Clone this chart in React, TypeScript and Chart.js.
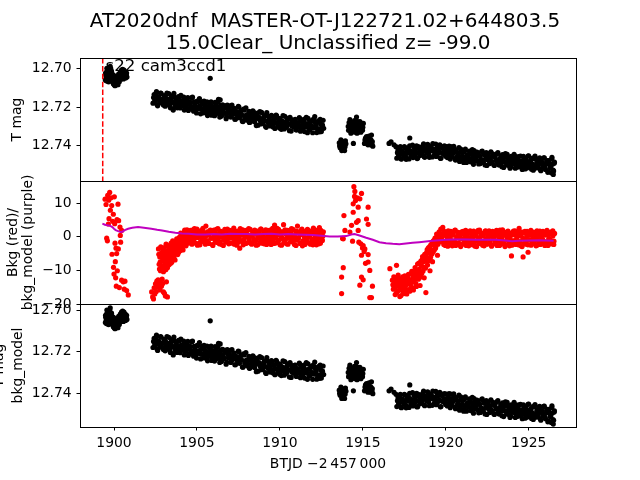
import React, { useEffect, useRef } from 'react';
import { Chart, registerables } from 'chart.js';

Chart.register(...registerables);

const FONT = '"DejaVu Sans", sans-serif';

const titleLines = ['AT2020dnf  MASTER-OT-J122721.02+644803.5', '15.0Clear_ Unclassified z= -99.0'];
const sectorLabel = 's22 cam3ccd1';
const xLabel = 'BTJD \u22122\u2009457\u2009000';
const yLabelTop = ['T mag'];
const yLabelMid = ['Bkg (red)/', 'bkg_model (purple)'];
const yLabelBot = ['T mag', 'bkg_model'];

const xTicks = [1900, 1905, 1910, 1915, 1920, 1925];
const magTicks = [12.7, 12.72, 12.74];
const bkgTicks = [10, 0, -10, -20];
const xRange = [1897.95, 1927.85];
const magRangeTop = [12.6947, 12.7582];
const bkgRange = [-20.0, 16.6];
const magRangeBot = [12.6971, 12.7562];
const eventTime = 1899.32;

// ---------- T mag light curve (black) ----------
const tmagSegA: number[][] = [
  [1899.48,12.7060],[1899.50,12.7035],[1899.53,12.7050],[1899.55,12.7020],[1899.58,12.7065],[1899.60,12.7040],
  [1899.63,12.7010],[1899.65,12.7055],[1899.68,12.7030],[1899.70,12.7005],[1899.73,12.7045],[1899.75,12.7020],
  [1899.77,12.6990],[1899.80,12.7060],[1899.82,12.7035],[1899.85,12.7015],[1899.88,12.7050],[1899.90,12.7070],
  [1899.93,12.7040],[1899.96,12.7080],[1899.98,12.7055],[1900.01,12.7085],[1900.04,12.7065],[1900.07,12.7045],
  [1900.10,12.7080],[1900.13,12.7060],[1900.16,12.7075],[1900.19,12.7050],[1900.22,12.7070],[1900.26,12.7045],
  [1900.30,12.7060],[1900.34,12.7035],[1900.38,12.7020],[1900.42,12.7045],[1900.45,12.7010],[1900.48,12.7030],
  [1900.52,12.7005],[1900.55,12.7040],[1900.58,12.7025],[1900.62,12.7045],[1900.66,12.7030],[1900.70,12.7050],
  [1900.74,12.7035],[1900.78,12.7045],
  [1899.49,12.7025],[1899.54,12.7065],[1899.57,12.7000],[1899.61,12.7055],[1899.64,12.7035],[1899.67,12.7070],
  [1899.71,12.7050],[1899.74,12.7000],[1899.78,12.7030],[1899.81,12.7015],[1899.86,12.7060],[1899.89,12.7030],
  [1899.94,12.7065],[1899.97,12.7035],[1900.00,12.7060],[1900.03,12.7045],[1900.06,12.7090],[1900.09,12.7055],
  [1900.14,12.7085],[1900.18,12.7065],[1900.21,12.7040],[1900.24,12.7085],[1900.28,12.7030],[1900.32,12.7070],
  [1900.36,12.7050],[1900.40,12.7030],[1900.44,12.7055],[1900.47,12.7020],[1900.50,12.7050],[1900.54,12.7015],
  [1900.57,12.7055],[1900.60,12.7010],[1900.64,12.7040],[1900.68,12.7020],[1900.72,12.7040],[1900.76,12.7025],
];
const tmagSegB: number[][] = [
  [1902.35,12.7180],[1902.42,12.7136],[1902.49,12.7162],[1902.56,12.7120],[1902.63,12.7194],[1902.70,12.7150],
  [1902.77,12.7177],[1902.84,12.7130],[1902.91,12.7160],[1902.98,12.7190],[1903.05,12.7145],[1903.12,12.7175],
  [1903.19,12.7128],[1903.26,12.7188],[1903.33,12.7160],[1903.40,12.7204],[1903.47,12.7142],[1903.54,12.7176],
  [1903.57,12.7216],[1903.61,12.7130],[1903.68,12.7190],[1903.75,12.7160],[1903.82,12.7204],[1903.89,12.7146],
  [1903.96,12.7179],[1904.03,12.7140],[1904.10,12.7192],[1904.17,12.7176],[1904.24,12.7216],[1904.31,12.7158],
  [1904.38,12.7190],[1904.45,12.7151],[1904.52,12.7210],[1904.59,12.7175],[1904.66,12.7200],[1904.73,12.7149],
  [1904.80,12.7222],[1904.87,12.7184],[1904.94,12.7214],[1905.01,12.7170],[1905.08,12.7199],[1905.15,12.7156],
  [1905.22,12.7235],[1905.29,12.7185],[1905.36,12.7211],[1905.43,12.7170],[1905.50,12.7229],[1905.57,12.7199],
  [1905.64,12.7244],[1905.71,12.7178],[1905.78,12.7214],[1905.80,12.7052],[1905.85,12.7173],[1905.92,12.7231],
  [1905.99,12.7199],[1906.06,12.7245],[1906.13,12.7192],[1906.20,12.7214],[1906.27,12.7175],[1906.30,12.7160],
  [1906.34,12.7232],[1906.40,12.7163],[1906.41,12.7209],[1906.48,12.7247],[1906.55,12.7189],[1906.62,12.7232],
  [1906.69,12.7202],[1906.76,12.7260],[1906.83,12.7190],[1906.90,12.7228],[1906.97,12.7216],[1907.04,12.7252],
  [1907.11,12.7190],[1907.18,12.7237],[1907.25,12.7207],[1907.32,12.7263],[1907.39,12.7225],[1907.46,12.7249],
  [1907.53,12.7200],[1907.60,12.7238],[1907.67,12.7217],[1907.74,12.7274],[1907.81,12.7211],[1907.88,12.7255],
  [1907.95,12.7204],[1908.02,12.7268],[1908.09,12.7241],[1908.16,12.7280],[1908.23,12.7226],[1908.30,12.7260],
  [1908.37,12.7220],[1908.44,12.7272],[1908.51,12.7244],[1908.58,12.7296],[1908.65,12.7231],[1908.72,12.7260],
  [1908.79,12.7224],[1908.86,12.7287],[1908.93,12.7262],[1909.00,12.7277],[1909.07,12.7244],[1909.14,12.7301],
  [1909.21,12.7229],[1909.28,12.7277],[1909.35,12.7255],[1909.42,12.7298],[1909.49,12.7243],[1909.56,12.7289],
  [1909.63,12.7266],[1909.70,12.7311],[1909.77,12.7242],[1909.84,12.7282],[1909.91,12.7259],[1909.98,12.7309],
  [1910.05,12.7270],[1910.12,12.7291],[1910.19,12.7244],[1910.26,12.7313],[1910.33,12.7278],[1910.40,12.7303],
  [1910.47,12.7258],[1910.54,12.7287],[1910.61,12.7253],[1910.68,12.7324],[1910.75,12.7273],[1910.82,12.7302],
  [1910.89,12.7266],[1910.96,12.7316],[1911.03,12.7288],[1911.10,12.7300],[1911.17,12.7255],[1911.24,12.7325],
  [1911.31,12.7274],[1911.38,12.7311],[1911.45,12.7264],[1911.52,12.7295],[1911.59,12.7253],[1911.66,12.7333],
  [1911.73,12.7285],[1911.80,12.7316],[1911.87,12.7271],[1911.94,12.7307],[1912.01,12.7264],[1912.08,12.7302],
  [1912.10,12.7250],[1912.15,12.7283],[1912.22,12.7332],[1912.29,12.7277],[1912.36,12.7314],[1912.43,12.7264],
  [1912.50,12.7327],[1912.57,12.7294],[1912.64,12.7310],
];
const tmagSegB2: number[][] = [
  [1902.385,12.7151],[1902.455,12.7169],[1902.525,12.7131],[1902.595,12.7187],[1902.665,12.7148],[1902.735,12.7165],
  [1902.805,12.7128],[1902.875,12.7179],[1902.945,12.7159],[1903.015,12.7141],[1903.085,12.7196],[1903.155,12.7155],
  [1903.225,12.7174],[1903.295,12.7131],[1903.365,12.7190],[1903.435,12.7154],[1903.505,12.7174],[1903.575,12.7209],
  [1903.645,12.7149],[1903.715,12.7185],[1903.785,12.7171],[1903.855,12.7188],[1903.925,12.7150],[1903.995,12.7205],
  [1904.065,12.7168],[1904.135,12.7185],[1904.205,12.7149],[1904.275,12.7200],[1904.345,12.7181],[1904.415,12.7163],
  [1904.485,12.7218],[1904.555,12.7177],[1904.625,12.7195],[1904.695,12.7152],[1904.765,12.7210],[1904.835,12.7174],
  [1904.905,12.7195],[1904.975,12.7231],[1905.045,12.7172],[1905.115,12.7208],[1905.185,12.7194],[1905.255,12.7212],
  [1905.325,12.7174],[1905.395,12.7230],[1905.465,12.7192],[1905.535,12.7209],[1905.605,12.7173],[1905.675,12.7224],
  [1905.745,12.7205],[1905.815,12.7187],[1905.885,12.7242],[1905.955,12.7201],[1906.025,12.7219],[1906.095,12.7176],
  [1906.165,12.7234],[1906.235,12.7198],[1906.305,12.7218],[1906.375,12.7252],[1906.445,12.7192],[1906.515,12.7228],
  [1906.585,12.7214],[1906.655,12.7232],[1906.725,12.7194],[1906.795,12.7250],[1906.865,12.7212],[1906.935,12.7229],
  [1907.005,12.7194],[1907.075,12.7245],[1907.145,12.7226],[1907.215,12.7208],[1907.285,12.7263],[1907.355,12.7222],
  [1907.425,12.7240],[1907.495,12.7197],[1907.565,12.7256],[1907.635,12.7220],[1907.705,12.7240],[1907.775,12.7275],
  [1907.845,12.7216],[1907.915,12.7253],[1907.985,12.7240],[1908.055,12.7259],[1908.125,12.7222],[1908.195,12.7279],
  [1908.265,12.7242],[1908.335,12.7260],[1908.405,12.7225],[1908.475,12.7276],[1908.545,12.7257],[1908.615,12.7239],
  [1908.685,12.7294],[1908.755,12.7253],[1908.825,12.7271],[1908.895,12.7228],[1908.965,12.7286],[1909.035,12.7251],
  [1909.105,12.7271],[1909.175,12.7305],[1909.245,12.7245],[1909.315,12.7281],[1909.385,12.7267],[1909.455,12.7285],
  [1909.525,12.7247],[1909.595,12.7303],[1909.665,12.7265],[1909.735,12.7282],[1909.805,12.7246],[1909.875,12.7297],
  [1909.945,12.7278],[1910.015,12.7260],[1910.085,12.7315],[1910.155,12.7274],[1910.225,12.7291],[1910.295,12.7248],
  [1910.365,12.7305],[1910.435,12.7269],[1910.505,12.7288],[1910.575,12.7322],[1910.645,12.7262],[1910.715,12.7298],
  [1910.785,12.7284],[1910.855,12.7302],[1910.925,12.7264],[1910.995,12.7319],[1911.065,12.7281],[1911.135,12.7297],
  [1911.205,12.7261],[1911.275,12.7311],[1911.345,12.7292],[1911.415,12.7273],[1911.485,12.7327],[1911.555,12.7286],
  [1911.625,12.7303],[1911.695,12.7259],[1911.765,12.7317],[1911.835,12.7280],[1911.905,12.7299],[1911.975,12.7333],
  [1912.045,12.7272],[1912.115,12.7308],[1912.185,12.7293],[1912.255,12.7311],[1912.325,12.7272],[1912.395,12.7328],
  [1912.465,12.7289],[1912.535,12.7306],[1912.605,12.7269],
];
const tmagSegC: number[][] = [
  [1913.58,12.7385],[1913.63,12.7410],[1913.68,12.7370],[1913.73,12.7425],[1913.78,12.7395],[1913.83,12.7415],
  [1913.88,12.7380],[1913.93,12.7405],[1913.98,12.7390],
  [1913.60,12.7400],[1913.65,12.7385],[1913.70,12.7400],[1913.75,12.7380],[1913.80,12.7420],[1913.85,12.7395],
  [1913.90,12.7425],[1913.95,12.7375],
];
const tmagSegD: number[][] = [
  [1914.12,12.7300],[1914.17,12.7280],[1914.20,12.7320],[1914.24,12.7295],[1914.28,12.7335],[1914.32,12.7310],
  [1914.36,12.7285],[1914.40,12.7325],[1914.43,12.7388],[1914.46,12.7300],[1914.50,12.7270],[1914.54,12.7315],
  [1914.58,12.7290],[1914.62,12.7252],[1914.65,12.7335],[1914.68,12.7275],[1914.72,12.7305],[1914.76,12.7320],
  [1914.80,12.7290],[1914.84,12.7310],[1914.88,12.7330],[1914.93,12.7300],[1914.98,12.7320],[1915.03,12.7285],
  [1915.10,12.7388],[1915.16,12.7360],[1915.22,12.7353],[1915.28,12.7372],[1915.34,12.7385],[1915.40,12.7365],
  [1915.46,12.7395],[1915.52,12.7345],[1915.57,12.7378],[1915.60,12.7402],
  [1914.14,12.7320],[1914.19,12.7300],[1914.22,12.7265],[1914.26,12.7315],[1914.30,12.7290],[1914.34,12.7330],
  [1914.38,12.7305],[1914.44,12.7280],[1914.48,12.7320],[1914.52,12.7295],[1914.56,12.7330],[1914.60,12.7275],
  [1914.64,12.7300],[1914.70,12.7330],[1914.74,12.7285],[1914.78,12.7310],[1914.82,12.7275],[1914.86,12.7295],
  [1914.90,12.7315],[1914.95,12.7285],[1915.00,12.7305],[1915.13,12.7370],[1915.19,12.7385],[1915.25,12.7365],
  [1915.31,12.7395],[1915.37,12.7350],[1915.43,12.7380],[1915.49,12.7370],[1915.55,12.7390],
];
const tmagSegE: number[][] = [
  [1916.58,12.7388],[1916.70,12.7380],[1916.88,12.7395],[1917.00,12.7405],[1917.83,12.7360],
];
const tmagSegF: number[][] = [
  [1917.05,12.7464],[1917.12,12.7422],[1917.19,12.7446],[1917.26,12.7405],[1917.33,12.7469],[1917.40,12.7431],
  [1917.47,12.7452],[1917.54,12.7409],[1917.61,12.7470],[1917.68,12.7423],[1917.75,12.7436],[1917.82,12.7400],
  [1917.89,12.7453],[1917.96,12.7431],[1918.03,12.7461],[1918.10,12.7409],[1918.17,12.7442],[1918.24,12.7400],
  [1918.31,12.7463],[1918.38,12.7415],[1918.45,12.7450],[1918.52,12.7408],[1918.59,12.7433],[1918.66,12.7390],
  [1918.73,12.7460],[1918.80,12.7417],[1918.87,12.7438],[1918.94,12.7398],[1919.01,12.7460],[1919.08,12.7410],
  [1919.15,12.7425],[1919.22,12.7389],[1919.29,12.7451],[1919.36,12.7421],[1919.43,12.7455],[1919.50,12.7404],
  [1919.57,12.7438],[1919.64,12.7396],[1919.71,12.7464],[1919.78,12.7412],[1919.85,12.7437],[1919.92,12.7401],
  [1919.99,12.7454],[1920.06,12.7426],[1920.13,12.7451],[1920.20,12.7402],[1920.27,12.7469],[1920.34,12.7426],
  [1920.41,12.7441],[1920.48,12.7403],[1920.55,12.7467],[1920.62,12.7421],[1920.69,12.7457],[1920.76,12.7437],
  [1920.83,12.7481],[1920.90,12.7417],[1920.97,12.7456],[1921.04,12.7432],[1921.11,12.7475],[1921.18,12.7417],
  [1921.25,12.7486],[1921.32,12.7450],[1921.39,12.7465],[1921.46,12.7431],[1921.53,12.7478],[1921.60,12.7420],
  [1921.67,12.7496],[1921.74,12.7444],[1921.81,12.7462],[1921.88,12.7433],[1921.95,12.7480],[1922.02,12.7452],
  [1922.09,12.7492],[1922.16,12.7430],[1922.23,12.7476],[1922.30,12.7444],[1922.37,12.7499],[1922.44,12.7435],
  [1922.51,12.7471],[1922.58,12.7456],[1922.65,12.7492],[1922.72,12.7432],[1922.79,12.7486],[1922.86,12.7454],
  [1922.93,12.7502],[1923.00,12.7446],[1923.07,12.7473],[1923.14,12.7435],[1923.21,12.7500],[1923.28,12.7467],
  [1923.35,12.7486],[1923.42,12.7446],[1923.49,12.7512],[1923.56,12.7460],[1923.63,12.7484],[1923.70,12.7444],
  [1923.77,12.7501],[1923.84,12.7476],[1923.91,12.7510],[1923.98,12.7459],[1924.05,12.7490],[1924.12,12.7444],
  [1924.19,12.7516],[1924.26,12.7471],[1924.33,12.7487],[1924.40,12.7456],[1924.47,12.7509],[1924.54,12.7480],
  [1924.61,12.7522],[1924.68,12.7455],[1924.75,12.7500],[1924.82,12.7468],[1924.89,12.7515],[1924.96,12.7453],
  [1925.03,12.7496],[1925.10,12.7479],[1925.17,12.7521],[1925.24,12.7464],[1925.31,12.7509],[1925.38,12.7454],
  [1925.45,12.7515],[1925.52,12.7479],[1925.59,12.7494],[1925.66,12.7463],[1925.73,12.7529],[1925.80,12.7486],
  [1925.87,12.7508],[1925.94,12.7462],[1926.01,12.7522],[1926.08,12.7482],[1926.15,12.7537],[1926.22,12.7477],
  [1926.29,12.7512],[1926.36,12.7540],[1926.40,12.7460],[1926.43,12.7495],[1926.48,12.7548],[1926.50,12.7530],
  [1926.55,12.7485],
];
const tmagSegF2: number[][] = [
  [1917.085,12.7436],[1917.155,12.7452],[1917.225,12.7413],[1917.295,12.7467],[1917.365,12.7427],[1917.435,12.7443],
  [1917.505,12.7405],[1917.575,12.7455],[1917.645,12.7434],[1917.715,12.7414],[1917.785,12.7468],[1917.855,12.7425],
  [1917.925,12.7442],[1917.995,12.7397],[1918.065,12.7453],[1918.135,12.7416],[1918.205,12.7434],[1918.275,12.7466],
  [1918.345,12.7405],[1918.415,12.7439],[1918.485,12.7424],[1918.555,12.7440],[1918.625,12.7400],[1918.695,12.7455],
  [1918.765,12.7415],[1918.835,12.7430],[1918.905,12.7393],[1918.975,12.7442],[1919.045,12.7422],[1919.115,12.7404],
  [1919.185,12.7458],[1919.255,12.7417],[1919.325,12.7434],[1919.395,12.7391],[1919.465,12.7448],[1919.535,12.7412],
  [1919.605,12.7431],[1919.675,12.7465],[1919.745,12.7404],[1919.815,12.7440],[1919.885,12.7425],[1919.955,12.7443],
  [1920.025,12.7404],[1920.095,12.7461],[1920.165,12.7423],[1920.235,12.7440],[1920.305,12.7404],[1920.375,12.7456],
  [1920.445,12.7437],[1920.515,12.7419],[1920.585,12.7474],[1920.655,12.7434],[1920.725,12.7452],[1920.795,12.7409],
  [1920.865,12.7468],[1920.935,12.7432],[1921.005,12.7452],[1921.075,12.7486],[1921.145,12.7426],[1921.215,12.7462],
  [1921.285,12.7447],[1921.355,12.7465],[1921.425,12.7427],[1921.495,12.7483],[1921.565,12.7445],[1921.635,12.7462],
  [1921.705,12.7425],[1921.775,12.7476],[1921.845,12.7457],[1921.915,12.7439],[1921.985,12.7494],[1922.055,12.7453],
  [1922.125,12.7470],[1922.195,12.7427],[1922.265,12.7485],[1922.335,12.7448],[1922.405,12.7468],[1922.475,12.7502],
  [1922.545,12.7441],[1922.615,12.7477],[1922.685,12.7463],[1922.755,12.7481],[1922.825,12.7442],[1922.895,12.7498],
  [1922.965,12.7460],[1923.035,12.7476],[1923.105,12.7440],[1923.175,12.7491],[1923.245,12.7471],[1923.315,12.7453],
  [1923.385,12.7508],[1923.455,12.7467],[1923.525,12.7484],[1923.595,12.7441],[1923.665,12.7499],[1923.735,12.7462],
  [1923.805,12.7482],[1923.875,12.7516],[1923.945,12.7455],[1924.015,12.7491],[1924.085,12.7477],[1924.155,12.7494],
  [1924.225,12.7456],[1924.295,12.7511],[1924.365,12.7473],[1924.435,12.7489],[1924.505,12.7453],[1924.575,12.7503],
  [1924.645,12.7484],[1924.715,12.7465],[1924.785,12.7520],[1924.855,12.7478],[1924.925,12.7496],[1924.995,12.7452],
  [1925.065,12.7510],[1925.135,12.7473],[1925.205,12.7493],[1925.275,12.7526],[1925.345,12.7466],[1925.415,12.7501],
  [1925.485,12.7487],[1925.555,12.7504],[1925.625,12.7466],[1925.695,12.7522],[1925.765,12.7483],[1925.835,12.7500],
  [1925.905,12.7463],[1925.975,12.7514],[1926.045,12.7495],[1926.115,12.7477],[1926.185,12.7533],[1926.255,12.7493],
  [1926.325,12.7511],[1926.395,12.7468],[1926.465,12.7526],[1926.535,12.7490],
];

// ---------- Background flux (red) ----------
const bkgSeg1: number[][] = [
  [1899.46,11.2],[1899.52,9.6],[1899.56,-0.4],[1899.60,-1.2],[1899.62,12.3],[1899.66,3.8],[1899.68,10.9],
  [1899.70,5.4],[1899.74,13.2],[1899.78,7.9],[1899.82,11.6],[1899.86,9.3],[1899.88,-5.2],[1899.92,4.6],
  [1899.96,6.7],[1899.97,-9.1],[1900.00,-11.1],[1900.02,11.9],[1900.04,3.9],[1900.06,-1.9],[1900.08,-7.4],
  [1900.10,-12.2],[1900.12,-3.4],[1900.14,-14.7],[1900.16,-5.0],[1900.18,5.1],[1900.20,-10.1],[1900.24,9.7],
  [1900.26,-3.6],[1900.28,4.8],[1900.32,-15.1],[1900.36,2.9],[1900.38,0.4],[1900.40,-1.6],[1900.46,1.9],
  [1900.46,-12.9],[1900.56,-13.4],[1900.62,-15.6],[1900.66,-13.2],[1900.76,-16.0],[1900.86,-17.3],
];
const bkgSeg2: number[][] = [
  [1902.27,-16.4],[1902.33,-17.9],[1902.38,-18.5],[1902.42,-15.2],[1902.46,-17.0],[1902.50,-14.0],[1902.55,-16.3],
  [1902.58,-13.2],[1902.62,-15.0],[1902.66,-12.8],[1902.70,-14.4],[1902.74,-13.6],[1902.78,-15.8],[1902.82,-13.0],
  [1902.86,-14.7],[1902.90,-12.6],[1902.94,-13.9],[1902.98,-16.4],[1903.04,-16.8],[1903.10,-17.6],[1903.16,-13.4],
  [1903.22,-17.9],
  [1902.68,-3.6],[1902.72,-8.2],[1902.76,-6.0],[1902.80,-10.1],[1902.84,-4.9],[1902.88,-7.3],[1902.92,-9.4],
  [1902.96,-5.6],[1903.00,-8.6],[1903.04,-3.2],[1903.08,-6.8],[1903.12,-9.8],[1903.16,-4.4],[1903.20,-7.2],
  [1903.24,-2.6],[1903.28,-5.9],[1903.32,-8.3],[1903.36,-3.8],[1903.40,-6.4],[1903.44,-1.9],[1903.48,-7.6],
  [1903.52,-4.7],[1903.56,-2.8],[1903.60,-5.5],[1903.64,-3.5],[1903.68,-6.9],[1903.72,-1.5],[1903.76,-4.2],
  [1903.80,-2.4],[1903.84,-5.3],[1903.88,-0.9],[1903.92,-3.3],[1903.96,-1.7],[1904.00,-4.1],[1904.04,-0.3],
  [1904.08,-2.6],[1904.12,0.9],[1904.16,-3.9],[1904.20,-1.2],[1904.24,1.4],[1904.28,-2.2],[1904.32,0.2],
  [1904.36,-0.9],[1904.40,2.1],[1904.44,-1.9],[1904.48,0.6],
  [1902.70,-5.2],[1902.74,-9.6],[1902.78,-7.5],[1902.82,-3.0],[1902.86,-8.8],[1902.90,-6.1],[1902.94,-4.2],
  [1902.98,-10.4],[1903.02,-6.5],[1903.06,-4.8],[1903.10,-8.1],[1903.14,-2.2],[1903.18,-5.4],[1903.22,-9.2],
  [1903.26,-4.0],[1903.30,-6.9],[1903.34,-2.9],[1903.38,-5.0],[1903.42,-7.9],[1903.46,-3.6],[1903.50,-5.9],
  [1903.54,-1.2],[1903.58,-3.9],[1903.62,-6.3],[1903.66,-2.1],[1903.70,-4.5],[1903.74,-2.9],[1903.78,-0.6],
  [1903.82,-3.7],[1903.86,-1.9],[1903.90,-4.6],[1903.94,-0.2],[1903.98,-2.7],[1904.02,1.1],[1904.06,-1.6],
  [1904.10,-3.4],[1904.14,0.4],[1904.18,-1.8],[1904.22,-0.5],[1904.26,2.0],[1904.30,-1.3],[1904.34,-2.7],
  [1904.38,0.9],[1904.42,-0.4],[1904.46,1.6],
];
const bkgSeg3: number[][] = [
  [1904.52,1.5],[1904.58,-1.3],[1904.64,0.4],[1904.70,-2.2],[1904.76,2.1],[1904.82,-0.6],[1904.88,1.1],
  [1904.94,-1.9],[1905.00,2.3],[1905.06,-0.2],[1905.12,0.8],[1905.18,-2.4],[1905.24,1.4],[1905.30,-0.9],
  [1905.36,2.5],[1905.42,-1.5],[1905.48,0.1],[1905.54,3.2],[1905.60,-1.1],[1905.66,0.6],[1905.72,-2.0],
  [1905.78,1.8],[1905.84,-0.4],[1905.90,1.2],[1905.96,-2.6],[1906.02,2.0],[1906.08,-0.7],[1906.14,0.9],
  [1906.20,-1.7],[1906.26,2.4],[1906.32,0.0],[1906.38,-1.4],[1906.44,1.6],[1906.50,-2.3],[1906.56,0.5],
  [1906.62,-0.9],[1906.68,2.2],[1906.74,-1.6],[1906.80,0.3],[1906.86,1.3],[1906.92,-2.1],[1906.98,1.9],
  [1907.04,-0.3],[1907.10,0.7],[1907.16,-1.8],[1907.22,2.6],[1907.28,-1.0],[1907.34,0.2],[1907.40,-2.5],
  [1907.46,1.5],[1907.52,-0.5],[1907.58,-3.4],[1907.64,1.0],[1907.70,-1.3],[1907.76,2.1],[1907.82,-0.8],
  [1907.88,0.6],[1907.94,-2.0],[1908.00,1.7],[1908.06,-0.1],[1908.12,2.4],[1908.18,-1.6],[1908.24,0.4],
  [1908.30,-2.2],[1908.36,1.2],[1908.42,-0.6],[1908.48,2.0],[1908.54,-1.2],[1908.60,0.8],[1908.66,-2.4],
  [1908.72,1.6],[1908.78,-0.4],[1908.84,2.3],[1908.90,-1.9],[1908.96,0.1],[1909.02,1.4],[1909.08,-1.0],
  [1909.14,2.1],[1909.20,-2.3],[1909.26,0.6],[1909.32,-0.7],[1909.38,1.8],[1909.44,-1.5],[1909.50,0.3],
  [1909.56,2.5],[1909.62,-2.0],[1909.68,3.5],[1909.74,-0.3],[1909.80,1.1],[1909.86,-1.7],[1909.92,2.2],
  [1909.98,-0.8],[1910.04,0.5],[1910.10,-2.5],[1910.16,1.5],[1910.22,3.6],[1910.28,-1.1],[1910.34,0.9],
  [1910.40,-2.1],[1910.46,1.9],[1910.52,-0.2],[1910.58,1.2],[1910.64,-1.4],[1910.70,2.4],[1910.76,-0.6],
  [1910.82,0.2],[1910.88,-2.3],[1910.94,1.7],[1911.00,-1.0],[1911.06,3.2],[1911.12,-0.4],[1911.18,1.0],
  [1911.24,-1.8],[1911.30,2.0],[1911.36,-2.7],[1911.42,0.7],[1911.48,-0.9],[1911.54,1.6],[1911.60,-1.3],
  [1911.66,2.2],[1911.72,-0.1],[1911.78,0.9],[1911.84,-2.2],[1911.90,1.4],[1911.96,-0.7],[1912.02,2.6],
  [1912.08,-1.6],[1912.14,0.4],[1912.20,-2.4],[1912.26,1.8],[1912.32,-0.5],[1912.38,2.7],[1912.44,-1.9],
  [1912.50,0.8],[1912.56,-1.1],[1912.62,1.5],
];
const bkgSeg3b: number[][] = [
  [1904.55,-0.6],[1904.61,1.9],[1904.67,-2.0],[1904.73,0.8],[1904.79,-1.1],[1904.85,2.4],[1904.91,-0.2],
  [1904.97,1.2],[1905.03,-2.5],[1905.09,0.5],[1905.15,1.7],[1905.21,-1.5],[1905.27,0.0],[1905.33,2.1],
  [1905.39,-0.9],[1905.45,1.0],[1905.51,-2.2],[1905.57,0.4],[1905.63,1.5],[1905.69,-1.7],[1905.75,0.9],
  [1905.81,2.0],[1905.87,-0.4],[1905.93,-2.3],[1905.99,1.1],[1906.05,0.3],[1906.11,-1.4],[1906.17,2.2],
  [1906.23,-0.8],[1906.29,0.6],[1906.35,-2.1],[1906.41,1.6],[1906.47,-0.1],[1906.53,1.3],[1906.59,-2.6],
  [1906.65,0.2],[1906.71,1.8],[1906.77,-1.0],[1906.83,2.3],[1906.89,-0.5],[1906.95,0.7],[1907.01,-1.9],
  [1907.07,1.4],[1907.13,-0.3],[1907.19,2.0],[1907.25,-2.2],[1907.31,0.9],[1907.37,-0.7],[1907.43,1.7],
  [1907.49,-1.6],[1907.55,0.1],[1907.61,2.4],[1907.67,-1.2],[1907.73,0.5],[1907.79,-2.4],[1907.85,1.2],
  [1907.91,-0.1],[1907.97,1.9],[1908.03,-1.8],[1908.09,0.6],[1908.15,-0.9],[1908.21,2.2],[1908.27,-2.0],
  [1908.33,0.2],[1908.39,1.5],[1908.45,-1.3],[1908.51,0.8],[1908.57,-2.5],[1908.63,1.7],[1908.69,-0.2],
  [1908.75,1.0],[1908.81,-1.6],[1908.87,2.3],[1908.93,-0.7],[1908.99,0.4],[1909.05,-2.1],[1909.11,1.3],
  [1909.17,-0.5],[1909.23,1.9],[1909.29,-1.4],[1909.35,0.0],[1909.41,2.0],[1909.47,-2.3],[1909.53,0.9],
  [1909.59,-0.8],[1909.65,1.6],[1909.71,-1.9],[1909.77,0.3],[1909.83,2.5],[1909.89,-1.1],[1909.95,0.7],
  [1910.01,-2.4],[1910.07,1.5],[1910.13,-0.3],[1910.19,1.1],[1910.25,-1.7],[1910.31,2.1],[1910.37,-0.6],
  [1910.43,0.5],[1910.49,-2.2],[1910.55,1.8],[1910.61,-0.1],[1910.67,0.9],[1910.73,-1.5],[1910.79,2.2],
  [1910.85,-0.9],[1910.91,0.4],[1910.97,-2.6],[1911.03,1.6],[1911.09,-0.4],[1911.15,1.2],[1911.21,-2.0],
  [1911.27,0.7],[1911.33,2.3],[1911.39,-1.2],[1911.45,0.2],[1911.51,-2.3],[1911.57,1.4],[1911.63,-0.6],
  [1911.69,2.0],[1911.75,-1.8],[1911.81,0.5],[1911.87,1.7],[1911.93,-1.0],[1911.99,-2.4],[1912.05,0.8],
  [1912.11,2.1],[1912.17,-0.3],[1912.23,-1.6],[1912.29,1.1],[1912.35,-2.1],[1912.41,0.6],[1912.47,1.9],
  [1912.53,-0.7],[1912.59,0.2],
];
const bkgSeg4: number[][] = [
  [1913.72,-12.0],[1913.72,-16.9],[1913.78,-0.5],[1913.82,-9.2],[1913.82,-0.6],[1913.86,6.3],[1913.92,1.9],
  [1914.22,1.4],[1914.32,3.4],[1914.38,-1.3],[1914.42,9.8],[1914.42,7.3],[1914.46,14.9],[1914.50,12.0],
  [1914.52,13.5],[1914.56,10.8],[1914.62,4.3],[1914.66,11.6],[1914.72,8.8],[1914.72,4.8],[1914.72,1.9],
  [1914.76,-1.6],[1914.82,11.3],[1914.82,-14.4],[1914.88,-2.1],[1914.92,12.9],[1914.92,-5.5],[1914.92,-12.0],
  [1914.98,-3.3],[1915.02,-2.6],[1915.02,-12.8],[1915.08,-4.4],[1915.12,-3.6],[1915.16,-7.9],[1915.22,5.3],
  [1915.32,8.8],[1915.32,3.7],[1915.32,-5.3],[1915.32,-7.5],[1915.42,-10.0],[1915.42,-18.1],[1915.52,-18.1],
  [1915.58,-14.7],[1916.63,-9.5],[1917.03,-8.5],
];
const bkgSeg5: number[][] = [
  [1916.78,-12.9],[1916.84,-15.6],[1916.90,-13.6],[1916.95,-17.2],[1917.00,-14.6],[1917.05,-12.1],[1917.10,-16.1],
  [1917.15,-13.8],[1917.20,-15.9],[1917.25,-12.6],[1917.30,-17.5],[1917.35,-14.2],[1917.40,-11.9],[1917.45,-16.4],
  [1917.50,-13.1],[1917.55,-15.2],[1917.60,-12.3],[1917.65,-17.0],[1917.70,-14.0],[1917.75,-11.2],[1917.80,-15.7],
  [1917.85,-12.8],[1917.90,-14.9],[1917.95,-10.3],[1918.00,-13.4],[1918.05,-15.8],[1918.10,-11.6],[1918.15,-9.2],
  [1918.20,-13.9],[1918.25,-10.8],[1918.30,-8.1],[1918.35,-12.6],[1918.40,-9.7],[1918.45,-14.5],[1918.50,-7.2],
  [1918.55,-10.9],[1918.60,-5.9],[1918.65,-9.0],[1918.70,-12.2],[1918.75,-6.8],[1918.80,-16.6],[1918.85,-4.6],
  [1918.90,-8.4],[1918.95,-3.3],[1919.00,-6.6],[1919.05,-10.1],[1919.10,-2.4],[1919.15,-5.2],[1919.20,-7.4],
  [1919.25,-1.2],[1919.30,-4.0],[1919.35,-0.4],[1919.40,-2.9],[1919.45,0.8],[1919.50,-5.5],[1919.55,-1.7],
  [1919.60,1.5],[1919.65,-0.6],[1919.70,2.3],
  [1916.81,-14.3],[1916.87,-11.9],[1916.93,-15.0],[1916.98,-12.7],[1917.03,-16.7],[1917.08,-13.2],[1917.13,-11.4],
  [1917.18,-14.7],[1917.23,-17.8],[1917.28,-13.5],[1917.33,-15.4],[1917.38,-12.9],[1917.43,-14.0],[1917.48,-16.9],
  [1917.53,-11.6],[1917.58,-14.4],[1917.63,-13.0],[1917.68,-15.9],[1917.73,-12.4],[1917.78,-13.9],[1917.83,-16.2],
  [1917.88,-11.0],[1917.93,-13.6],[1917.98,-15.1],[1918.03,-11.8],[1918.08,-13.2],[1918.13,-10.4],[1918.18,-12.4],
  [1918.23,-14.8],[1918.28,-9.9],[1918.33,-11.2],[1918.38,-7.8],[1918.43,-10.6],[1918.48,-12.0],[1918.53,-8.6],
  [1918.58,-6.8],[1918.63,-10.2],[1918.68,-7.4],[1918.73,-5.2],[1918.78,-9.3],[1918.83,-6.0],[1918.88,-3.8],
  [1918.93,-7.2],[1918.98,-4.9],[1919.03,-2.9],[1919.08,-6.1],[1919.13,-3.8],[1919.18,-1.8],[1919.23,-4.6],
  [1919.28,-2.4],[1919.33,-0.9],[1919.38,-3.4],[1919.43,-1.5],[1919.48,0.2],[1919.53,-2.2],[1919.58,-0.2],
  [1919.63,1.0],[1919.68,-1.4],[1919.73,0.5],
];
const bkgSeg6: number[][] = [
  [1919.76,-0.2],[1919.82,2.8],[1919.88,-2.3],[1919.94,0.6],[1920.00,-1.6],[1920.06,1.3],[1920.12,-2.8],
  [1920.18,0.1],[1920.24,-0.9],[1920.30,1.6],[1920.36,-2.2],[1920.42,0.9],[1920.48,-1.4],[1920.54,1.9],
  [1920.60,-2.6],[1920.66,-0.3],[1920.72,1.1],[1920.78,-1.9],[1920.84,0.4],[1920.90,-2.9],[1920.96,1.5],
  [1921.02,-0.6],[1921.08,0.8],[1921.14,-2.1],[1921.20,1.9],[1921.26,-1.2],[1921.32,-0.1],[1921.38,-2.7],
  [1921.44,1.2],[1921.50,-0.8],[1921.56,0.5],[1921.62,-2.4],[1921.68,1.7],[1921.74,-1.5],[1921.80,0.2],
  [1921.86,-2.9],[1921.92,1.4],[1921.98,-0.4],[1922.04,2.0],[1922.10,-1.8],[1922.16,0.7],[1922.22,-2.5],
  [1922.28,1.0],[1922.34,-1.1],[1922.40,1.8],[1922.46,-2.2],[1922.52,-0.2],[1922.58,1.3],[1922.64,-1.7],
  [1922.70,0.4],[1922.76,-2.8],[1922.82,1.6],[1922.88,-0.7],[1922.94,0.9],[1923.00,-2.0],[1923.06,1.9],
  [1923.12,-1.3],[1923.18,0.1],[1923.24,-2.6],[1923.30,1.2],[1923.36,-0.5],[1923.42,2.1],[1923.48,-1.9],
  [1923.54,0.6],[1923.60,-2.3],[1923.66,1.4],[1923.72,-0.9],[1923.78,0.3],[1923.84,-2.7],[1923.90,1.0],
  [1923.96,-5.7],[1924.02,-1.2],[1924.08,1.7],[1924.14,-2.1],[1924.20,0.5],[1924.26,-0.8],[1924.32,1.3],
  [1924.38,-2.4],[1924.42,2.5],[1924.48,-1.4],[1924.54,0.8],[1924.60,-2.9],[1924.66,-6.0],[1924.72,1.1],
  [1924.78,-0.6],[1924.84,-2.2],[1924.90,1.6],[1924.96,-4.6],[1925.02,-1.0],[1925.08,0.7],[1925.14,-2.5],
  [1925.20,1.5],[1925.26,-0.3],[1925.32,-1.8],[1925.38,0.9],[1925.44,-2.7],[1925.50,1.8],[1925.56,-1.1],
  [1925.62,0.2],[1925.68,-2.3],[1925.74,1.2],[1925.80,-0.7],[1925.86,1.6],[1925.92,-2.0],[1925.98,0.5],
  [1926.04,-1.5],[1926.10,1.9],[1926.16,-2.6],[1926.22,0.8],[1926.28,-0.9],[1926.34,1.4],[1926.40,-2.1],
  [1926.46,0.3],[1926.52,-1.3],[1926.56,1.0],
];
const bkgSeg6b: number[][] = [
  [1919.79,0.9],[1919.85,-1.5],[1919.91,1.6],[1919.97,-2.6],[1920.03,0.2],[1920.09,-0.8],[1920.15,1.8],
  [1920.21,-2.0],[1920.27,-0.4],[1920.33,1.0],[1920.39,-2.7],[1920.45,0.5],[1920.51,-1.2],[1920.57,2.0],
  [1920.63,-1.8],[1920.69,0.0],[1920.75,1.3],[1920.81,-2.4],[1920.87,-0.6],[1920.93,0.8],[1920.99,-2.2],
  [1921.05,1.6],[1921.11,-1.0],[1921.17,0.3],[1921.23,-2.6],[1921.29,1.1],[1921.35,-0.4],[1921.41,-1.7],
  [1921.47,1.8],[1921.53,-2.3],[1921.59,0.1],[1921.65,-0.9],[1921.71,1.4],[1921.77,-2.8],[1921.83,0.6],
  [1921.89,-1.3],[1921.95,1.9],[1922.01,-2.0],[1922.07,-0.2],[1922.13,1.1],[1922.19,-1.5],[1922.25,0.4],
  [1922.31,-2.7],[1922.37,1.6],[1922.43,-0.6],[1922.49,0.9],[1922.55,-2.1],[1922.61,1.8],[1922.67,-1.1],
  [1922.73,0.2],[1922.79,-2.4],[1922.85,1.2],[1922.91,-0.3],[1922.97,-1.8],[1923.03,1.5],[1923.09,-2.6],
  [1923.15,0.6],[1923.21,-1.0],[1923.27,2.0],[1923.33,-2.2],[1923.39,0.0],[1923.45,-1.4],[1923.51,1.3],
  [1923.57,-2.9],[1923.63,0.4],[1923.69,-0.7],[1923.75,1.7],[1923.81,-2.0],[1923.87,-0.2],[1923.93,1.0],
  [1923.99,-2.5],[1924.05,0.6],[1924.11,-1.2],[1924.17,1.8],[1924.23,-2.3],[1924.29,-0.1],[1924.35,1.1],
  [1924.41,-1.6],[1924.47,0.3],[1924.53,-2.7],[1924.59,1.4],[1924.65,-0.5],[1924.71,-2.0],[1924.77,1.6],
  [1924.83,-1.3],[1924.89,0.2],[1924.95,-2.4],[1925.01,1.0],[1925.07,-0.8],[1925.13,1.9],[1925.19,-2.1],
  [1925.25,0.5],[1925.31,-1.5],[1925.37,1.3],[1925.43,-0.2],[1925.49,-2.5],[1925.55,0.8],[1925.61,-1.1],
  [1925.67,1.7],[1925.73,-2.2],[1925.79,0.1],[1925.85,-0.9],[1925.91,1.2],[1925.97,-2.6],[1926.03,0.7],
  [1926.09,-1.6],[1926.15,1.5],[1926.21,-0.4],[1926.27,-2.1],[1926.33,0.9],[1926.39,-1.2],[1926.45,1.8],
  [1926.51,-2.3],
];

// ---------- Background model (purple line) ----------
const bkgModel: number[][] = [
  [1899.30,3.9],[1899.45,3.6],[1899.60,3.4],[1899.75,3.3],[1899.90,2.9],[1900.00,2.4],[1900.10,2.0],
  [1900.25,1.7],[1900.40,1.4],[1900.50,1.5],[1900.65,2.0],[1900.85,2.4],[1901.10,2.7],[1901.45,2.9],
  [1901.80,2.7],[1902.25,2.4],[1902.60,2.1],[1902.90,1.9],[1903.30,1.5],[1903.70,1.2],[1904.10,1.0],
  [1904.50,0.9],[1905.00,0.7],[1905.50,0.7],[1906.00,0.8],[1906.50,0.7],[1907.00,0.9],[1907.50,0.8],
  [1908.00,0.8],[1908.50,0.7],[1909.00,0.8],[1909.50,0.9],[1910.00,0.7],[1910.50,0.8],[1911.00,0.7],
  [1911.50,0.6],[1912.00,0.5],[1912.50,0.3],[1913.00,0.1],[1913.50,0.1],[1914.00,0.2],[1914.30,0.7],
  [1914.50,0.8],[1914.80,0.4],[1915.20,-0.3],[1915.60,-0.9],[1916.00,-1.6],[1916.40,-1.9],[1916.80,-2.1],
  [1917.20,-2.2],[1917.60,-2.0],[1918.00,-1.8],[1918.40,-1.6],[1918.80,-1.4],[1919.20,-1.2],[1919.60,-1.0],
  [1920.00,-0.9],[1920.60,-0.8],[1921.20,-0.8],[1921.80,-0.9],[1922.40,-0.9],[1923.00,-0.9],[1923.60,-1.1],
  [1924.00,-1.3],[1924.40,-1.2],[1925.00,-1.1],[1925.60,-1.0],[1926.00,-1.1],[1926.50,-1.2],
];

const toXY = (segs: number[][][]) => segs.flat().map((p) => ({ x: p[0], y: p[1] }));
const tmagPoints = toXY([tmagSegA, tmagSegB, tmagSegB2, tmagSegC, tmagSegD, tmagSegE, tmagSegF, tmagSegF2]);
const bkgPoints = toXY([bkgSeg1, bkgSeg2, bkgSeg3, bkgSeg3b, bkgSeg4, bkgSeg5, bkgSeg6, bkgSeg6b]);
const modelPoints = toXY([bkgModel]);

const fmtMinus = (v: number) => (v < 0 ? '\u2212' + Math.abs(v) : String(v));

function drawRotated(ctx: CanvasRenderingContext2D, text: string, x: number, y: number) {
  ctx.save();
  ctx.translate(x, y);
  ctx.rotate(-Math.PI / 2);
  ctx.textAlign = 'center';
  ctx.textBaseline = 'alphabetic';
  ctx.fillText(text, 0, 0);
  ctx.restore();
}

const decorPlugin = {
  id: 'decor',
  afterDatasetsDraw(chart: any) {
    const ctx: CanvasRenderingContext2D = chart.ctx;
    const { left, right } = chart.chartArea;
    const xs = chart.scales.x;
    const panels = [chart.scales.y1, chart.scales.y2, chart.scales.y3];
    ctx.save();
    const px = xs.getPixelForValue(eventTime);
    ctx.strokeStyle = '#ff0000';
    ctx.lineWidth = 1.5;
    ctx.setLineDash([5.5, 2.4]);
    ctx.beginPath();
    ctx.moveTo(px, panels[0].top);
    ctx.lineTo(px, panels[0].bottom);
    ctx.stroke();
    ctx.setLineDash([]);
    ctx.strokeStyle = '#000';
    ctx.lineWidth = 1;
    panels.forEach((s: any) => {
      ctx.strokeRect(Math.round(left) + 0.5, Math.round(s.top) + 0.5, Math.round(right - left), Math.round(s.bottom - s.top));
    });
    ctx.restore();
  },
  afterDraw(chart: any) {
    const ctx: CanvasRenderingContext2D = chart.ctx;
    const { left, right } = chart.chartArea;
    const cx = (left + right) / 2;
    const panels = [chart.scales.y1, chart.scales.y2, chart.scales.y3];
    ctx.save();
    ctx.fillStyle = '#000';
    ctx.textAlign = 'center';
    ctx.textBaseline = 'alphabetic';
    ctx.font = `20px ${FONT}`;
    ctx.fillText(titleLines[0], cx - 3, 27);
    ctx.fillText(titleLines[1], cx, 49);
    ctx.font = `16.67px ${FONT}`;
    ctx.textAlign = 'left';
    ctx.fillText(sectorLabel, 105.5, 70.5);
    ctx.font = `13.9px ${FONT}`;
    ctx.textAlign = 'center';
    ctx.fillText(xLabel, cx, 468);
    const mid = (s: any) => (s.top + s.bottom) / 2;
    drawRotated(ctx, yLabelTop[0], 21, mid(panels[0]));
    drawRotated(ctx, yLabelMid[0], 16.5, mid(panels[1]));
    drawRotated(ctx, yLabelMid[1], 31.5, mid(panels[1]));
    drawRotated(ctx, yLabelBot[0], 3, mid(panels[2]));
    drawRotated(ctx, yLabelBot[1], 21.5, mid(panels[2]));
    ctx.restore();
  },
};

const tickFont = { family: FONT, size: 13.9 };
const gridOpts = { display: true, drawOnChartArea: false, drawTicks: true, tickLength: 3.5, color: '#000', lineWidth: 1 };

function yScale(range: number[], ticks: number[], reverse: boolean, weight: number, fmt: (v: number) => string) {
  return {
    type: 'linear',
    position: 'left',
    stack: 'panels',
    stackWeight: 1,
    weight,
    reverse,
    min: range[0],
    max: range[1],
    grid: gridOpts,
    border: { display: false },
    afterBuildTicks: (s: any) => { s.ticks = ticks.map((v) => ({ value: v })); },
    afterFit: (s: any) => { s.width = 80; },
    ticks: { autoSkip: false, font: tickFont, color: '#000', padding: 4.9, callback: (v: any) => fmt(Number(v)) },
  };
}

export default function App() {
  const ref = useRef<HTMLCanvasElement | null>(null);
  useEffect(() => {
    if (!ref.current) return;
    const pt = { pointRadius: 2.6, pointBorderWidth: 0, pointHoverRadius: 0 };
    const chart = new Chart(ref.current, {
      type: 'scatter',
      data: {
        datasets: [
          { type: 'scatter', data: tmagPoints, yAxisID: 'y1', xAxisID: 'x', backgroundColor: '#000', ...pt, order: 2 } as any,
          { type: 'line', data: modelPoints, yAxisID: 'y2', xAxisID: 'x', borderColor: '#bf00bf', borderWidth: 2, pointRadius: 0, showLine: true, fill: false, tension: 0, order: 0 } as any,
          { type: 'scatter', data: bkgPoints, yAxisID: 'y2', xAxisID: 'x', backgroundColor: '#ff0000', ...pt, order: 1 } as any,
          { type: 'scatter', data: tmagPoints, yAxisID: 'y3', xAxisID: 'x', backgroundColor: '#000', ...pt, order: 3 } as any,
        ],
      },
      options: {
        responsive: false,
        devicePixelRatio: 1,
        animation: false,
        events: [],
        layout: { padding: { top: 58, left: 0, right: 64, bottom: 0 } },
        plugins: { legend: { display: false }, tooltip: { enabled: false }, title: { display: false } },
        scales: {
          x: {
            type: 'linear',
            position: 'bottom',
            min: xRange[0],
            max: xRange[1],
            grid: gridOpts,
            border: { display: false },
            afterBuildTicks: (s: any) => { s.ticks = xTicks.map((v) => ({ value: v })); },
            afterFit: (s: any) => { s.height = 53; },
            ticks: { autoSkip: false, maxRotation: 0, font: tickFont, color: '#000', padding: 5, callback: (v: any) => String(v) },
          },
          y1: yScale(magRangeTop, magTicks, true, 3, (v) => v.toFixed(2)),
          y2: yScale(bkgRange, bkgTicks, false, 2, fmtMinus),
          y3: yScale(magRangeBot, magTicks, true, 1, (v) => v.toFixed(2)),
        } as any,
      },
      plugins: [decorPlugin],
    } as any);
    return () => chart.destroy();
  }, []);
  return (
    <div style={{ position: 'absolute', left: 0, top: 0, width: 640, height: 480, background: '#fff' }}>
      <canvas ref={ref} width={640} height={480} style={{ display: 'block' }} />
    </div>
  );
}
